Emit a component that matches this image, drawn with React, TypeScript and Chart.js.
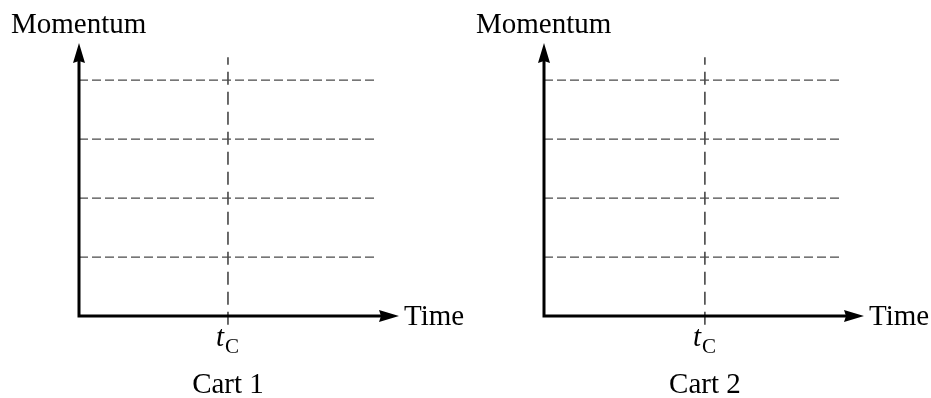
import React, { useEffect, useRef } from "react";
import { Chart, registerables } from "chart.js";

Chart.register(...registerables);

// ---- data ----
const cartNames = ["Cart 1", "Cart 2"];
const collisionTimes = [5.0, 5.4]; // position of t_C on each time axis
const gridLevels = [1, 2, 3, 4]; // dashed momentum reference lines
const gridEndTime = 10; // where the dashed lines stop
const timeAxisMax = 10.74; // tip of the time arrow
const momentumAxisMax = 4.63; // tip of the momentum arrow
const tcLineRange = [-0.15, 4.39]; // vertical dashed line at t_C
const yAxisTitle = "Momentum";
const xAxisTitle = "Time";
const tcMain = "t";
const tcSub = "C";

const FONT = '"Liberation Serif", "Times New Roman", Times, serif';
const canvasWidths = [465, 467];
const HEIGHT = 398;

function makeConfig(idx: number, width: number): any {
  const tC = collisionTimes[idx];
  const datasets: any[] = gridLevels.map((lvl) => ({
    label: "level " + lvl,
    data: [
      { x: 0, y: lvl },
      { x: gridEndTime, y: lvl },
    ],
    showLine: true,
    borderColor: "#4a4a4a",
    borderWidth: 1.2,
    borderDash: [9, 4],
    pointRadius: 0,
    fill: false,
  }));
  datasets.push({
    label: "tC",
    data: [
      { x: tC, y: tcLineRange[0] },
      { x: tC, y: tcLineRange[1] },
    ],
    showLine: true,
    borderColor: "#3a3a3a",
    borderWidth: 1.5,
    borderDash: [13, 7],
    pointRadius: 0,
    fill: false,
    clip: false,
  });

  const axesPlugin = {
    id: "axesArrows" + idx,
    afterDatasetsDraw(chart: any) {
      const ctx = chart.ctx;
      const xs = chart.scales.x;
      const ys = chart.scales.y;
      const x0 = xs.getPixelForValue(0);
      const y0 = ys.getPixelForValue(0);
      const xTip = xs.getPixelForValue(timeAxisMax);
      const yTip = ys.getPixelForValue(momentumAxisMax);
      const tcX = xs.getPixelForValue(tC);
      const headLen = 20;
      const headHalf = 6;
      ctx.save();
      ctx.strokeStyle = "#000";
      ctx.fillStyle = "#000";
      ctx.lineWidth = 3;
      ctx.lineJoin = "miter";
      ctx.lineCap = "butt";
      ctx.setLineDash([]);
      ctx.beginPath();
      ctx.moveTo(x0, yTip + headLen - 3);
      ctx.lineTo(x0, y0);
      ctx.lineTo(xTip - headLen + 3, y0);
      ctx.stroke();
      // up arrow head
      ctx.beginPath();
      ctx.moveTo(x0, yTip);
      ctx.lineTo(x0 - headHalf, yTip + headLen);
      ctx.lineTo(x0, yTip + headLen - 2);
      ctx.lineTo(x0 + headHalf, yTip + headLen);
      ctx.closePath();
      ctx.fill();
      // right arrow head
      ctx.beginPath();
      ctx.moveTo(xTip, y0);
      ctx.lineTo(xTip - headLen, y0 - headHalf);
      ctx.lineTo(xTip - headLen + 2, y0);
      ctx.lineTo(xTip - headLen, y0 + headHalf);
      ctx.closePath();
      ctx.fill();

      // texts
      ctx.textBaseline = "alphabetic";
      ctx.font = "29px " + FONT;
      ctx.textAlign = "left";
      ctx.fillText(yAxisTitle, x0 - 68, 33);
      ctx.fillText(xAxisTitle, xTip + 5, y0 + 9);
      ctx.textAlign = "center";
      ctx.fillText(cartNames[idx], tcX, 393);
      ctx.textAlign = "left";
      ctx.font = "italic 29px " + FONT;
      ctx.fillText(tcMain, tcX - 12, y0 + 30);
      ctx.font = "21px " + FONT;
      ctx.fillText(tcSub, tcX - 3, y0 + 37);
      ctx.restore();
    },
  };

  return {
    type: "scatter",
    data: { datasets },
    options: {
      animation: false,
      responsive: false,
      devicePixelRatio: 1,
      layout: {
        padding: { left: 79, top: 43, bottom: 82, right: width - 399 },
      },
      plugins: {
        legend: { display: false },
        tooltip: { enabled: false },
        title: { display: false },
      },
      events: [],
      scales: {
        x: { type: "linear", min: 0, max: timeAxisMax, display: false },
        y: { type: "linear", min: 0, max: momentumAxisMax, display: false },
      },
    },
    plugins: [axesPlugin],
  };
}

function CartChart({ idx, width }: { idx: number; width: number }) {
  const ref = useRef<HTMLCanvasElement | null>(null);
  useEffect(() => {
    if (!ref.current) return;
    const chart = new Chart(ref.current, makeConfig(idx, width));
    return () => chart.destroy();
  }, [idx, width]);
  return (
    <canvas
      ref={ref}
      width={width}
      height={HEIGHT}
      style={{ display: "block", width: width, height: HEIGHT }}
    />
  );
}

export default function App() {
  return (
    <div
      style={{
        position: "absolute",
        left: 0,
        top: 0,
        width: 931,
        height: HEIGHT,
        background: "#fff",
        display: "flex",
        flexDirection: "row",
      }}
    >
      {cartNames.map((_, i) => (
        <CartChart key={i} idx={i} width={canvasWidths[i]} />
      ))}
    </div>
  );
}
